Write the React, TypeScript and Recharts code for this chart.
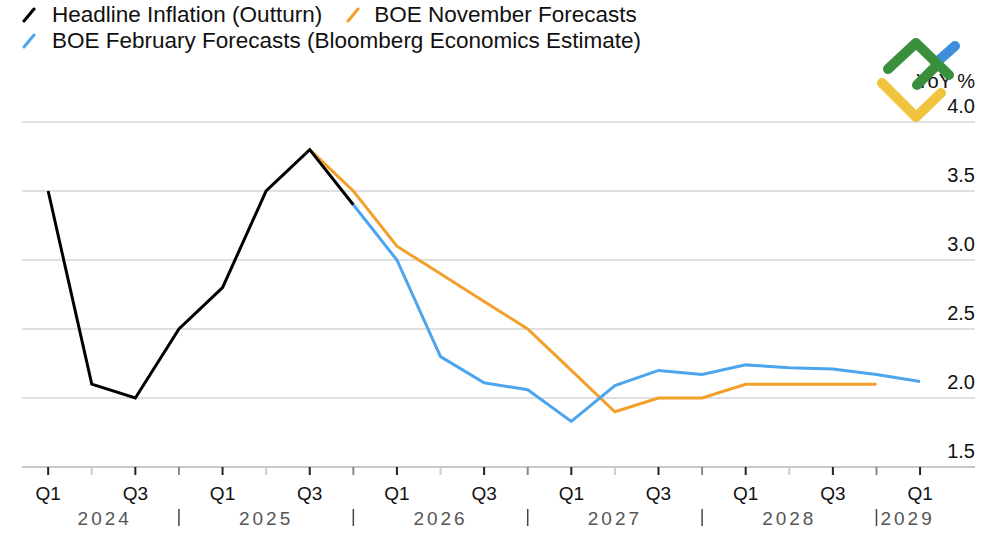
import React from 'react'
import {
  LineChart,
  Line,
  XAxis,
  YAxis,
  CartesianGrid,
} from 'recharts'

// quarters from 2024 Q1 to 2029 Q1
const quarters = [
  'Q1', 'Q2', 'Q3', 'Q4',
  'Q1', 'Q2', 'Q3', 'Q4',
  'Q1', 'Q2', 'Q3', 'Q4',
  'Q1', 'Q2', 'Q3', 'Q4',
  'Q1', 'Q2', 'Q3', 'Q4',
  'Q1',
]

const headline = [3.5, 2.1, 2.0, 2.5, 2.8, 3.5, 3.8, 3.4]

const novForecast = [
  null, null, null, null, null, null,
  3.8, 3.5, 3.1, 2.9, 2.7, 2.5, 2.2, 1.9, 2.0, 2.0, 2.1, 2.1, 2.1, 2.1,
]

const febForecast = [
  null, null, null, null, null, null, null,
  3.4, 3.0, 2.3, 2.11, 2.06, 1.83, 2.09, 2.2, 2.17, 2.24, 2.22, 2.21, 2.17, 2.12,
]

const yTicks = [1.5, 2.0, 2.5, 3.0, 3.5, 4.0]

// year label -> [tick index it hangs on, x offset, anchor]
const yearLabels: Record<number, [string, number, string]> = {
  1: ['2024', 13, 'middle'],
  5: ['2025', 0, 'middle'],
  9: ['2026', 0, 'middle'],
  13: ['2027', 0, 'middle'],
  17: ['2028', 0, 'middle'],
  19: ['2029', 4, 'start'],
}

const data = quarters.map((q, i) => ({
  i,
  q,
  headline: i < headline.length ? headline[i] : null,
  nov: novForecast[i] ?? null,
  feb: febForecast[i] ?? null,
}))

const FONT = '"Liberation Sans", Arial, Helvetica, sans-serif'
const BLACK = '#000000'
const ORANGE = '#F3A02B'
const BLUE = '#4DA5EE'

const XTick = (props: any) => {
  const { x, y, payload } = props
  const i = payload.value
  const q = quarters[i]
  const major = q === 'Q1' || q === 'Q3'
  const tickColor = major ? '#222' : q === 'Q4' ? '#888' : '#ccc'
  const year = yearLabels[i]
  return (
    <g>
      <line x1={x} x2={x} y1={y} y2={y + 8} stroke={tickColor} strokeWidth={2} />
      {major && (
        <text x={x} y={y + 33} textAnchor="middle" fontSize={19} fill="#111" fontFamily={FONT}>
          {q}
        </text>
      )}
      {q === 'Q4' && (
        <line x1={x} x2={x} y1={y + 42} y2={y + 59} stroke="#444" strokeWidth={1.5} />
      )}
      {year && (
        <text
          x={x + year[1]}
          y={y + 58}
          textAnchor={year[2] as any}
          fontSize={19}
          letterSpacing={3}
          fill="#555"
          fontFamily={FONT}
        >
          {year[0]}
        </text>
      )}
    </g>
  )
}

const YTick = (props: any) => {
  const { y, payload } = props
  return (
    <g>
      <text x={975} y={y - 9} textAnchor="end" fontSize={20} fill="#111" fontFamily={FONT}>
        {payload.value.toFixed(1)}
      </text>
      {payload.value === 4 && (
        <text x={975} y={y - 34} textAnchor="end" fontSize={20} fill="#111" fontFamily={FONT}>
          YoY %
        </text>
      )}
    </g>
  )
}

const Slash = ({ color }: { color: string }) => (
  <svg width={14} height={16} style={{ verticalAlign: 'middle' }}>
    <line x1={2} y1={14} x2={12} y2={2} stroke={color} strokeWidth={3} strokeLinecap="round" />
  </svg>
)

const legendRow: React.CSSProperties = {
  position: 'absolute',
  display: 'flex',
  alignItems: 'center',
  fontSize: 22.5,
  color: '#111',
  fontFamily: FONT,
  whiteSpace: 'nowrap',
}

const Logo = () => (
  <svg
    width={1000}
    height={545}
    style={{ position: 'absolute', left: 0, top: 0, pointerEvents: 'none' }}
  >
    <g strokeLinecap="round" strokeLinejoin="round" fill="none" strokeWidth={10}>
      <polyline points="882,83 916,117 941,93" stroke="#F0C33C" />
      <line x1={938} y1={61} x2={955} y2={46} stroke="#3D8FDB" />
      <polyline points="888,69 916,43 949,75" stroke="#3A8F3C" />
      <line x1={917} y1={85} x2={935} y2={67} stroke="#3A8F3C" />
    </g>
  </svg>
)

export default function App() {
  return (
    <div style={{ position: 'fixed', left: 0, top: 0, width: 1000, height: 545, background: '#fff' }}>
      <div style={{ ...legendRow, left: 22, top: 2 }}>
        <Slash color={BLACK} />
        <span style={{ marginLeft: 16 }}>Headline Inflation (Outturn)</span>
        <span style={{ marginLeft: 24, display: 'flex' }}><Slash color={ORANGE} /></span>
        <span style={{ marginLeft: 14 }}>BOE November Forecasts</span>
      </div>
      <div style={{ ...legendRow, left: 22, top: 28 }}>
        <Slash color={BLUE} />
        <span style={{ marginLeft: 16 }}>BOE February Forecasts (Bloomberg Economics Estimate)</span>
      </div>
      <LineChart
        width={1000}
        height={545}
        data={data}
        margin={{ top: 122, right: 0, bottom: 0, left: 22 }}
      >
        <CartesianGrid vertical={false} stroke="#d6d6d6" strokeWidth={1.5} />
        <XAxis
          dataKey="i"
          type="number"
          domain={[-0.6, 21.26]}
          ticks={quarters.map((_, i) => i)}
          interval={0}
          tick={<XTick />}
          tickLine={false}
          tickSize={0}
          tickMargin={0}
          axisLine={{ stroke: '#c8c8c8', strokeWidth: 2 }}
          height={78}
        />
        <YAxis
          orientation="right"
          width={25}
          domain={[1.5, 4.0]}
          ticks={yTicks}
          axisLine={false}
          tickLine={false}
          tick={<YTick />}
        />
        <Line
          dataKey="nov"
          stroke={ORANGE}
          strokeWidth={3}
          dot={false}
          isAnimationActive={false}
        />
        <Line
          dataKey="feb"
          stroke={BLUE}
          strokeWidth={3}
          dot={false}
          isAnimationActive={false}
        />
        <Line
          dataKey="headline"
          stroke={BLACK}
          strokeWidth={3}
          dot={false}
          isAnimationActive={false}
        />
      </LineChart>
      <Logo />
    </div>
  )
}
